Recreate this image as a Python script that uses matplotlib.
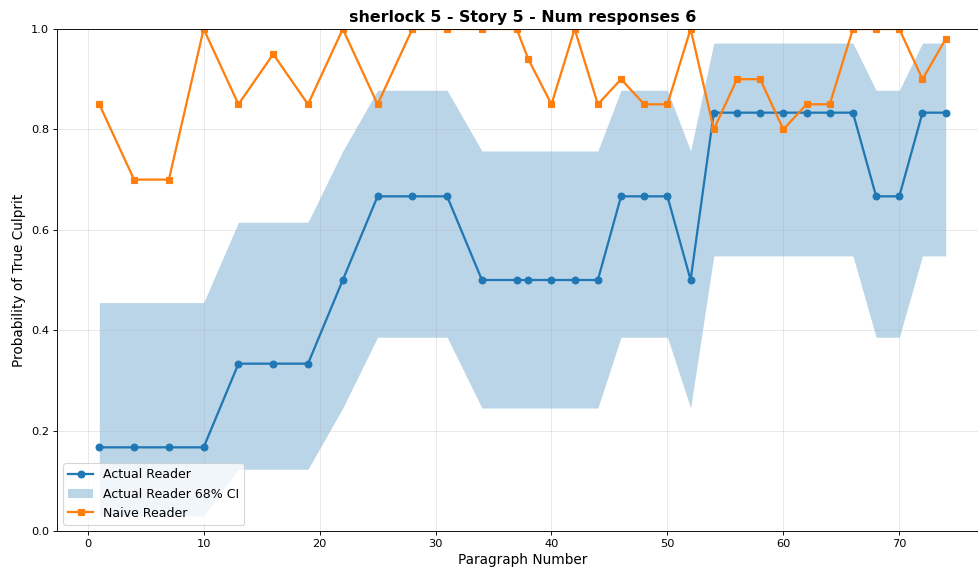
import matplotlib
matplotlib.use("Agg")
import matplotlib.pyplot as plt
import numpy as np

paragraphs = [1, 4, 7, 10, 13, 16, 19, 22, 25, 28, 31, 34, 37, 38, 40, 42, 44,
              46, 48, 50, 52, 54, 56, 58, 60, 62, 64, 66, 68, 70, 72, 74]
actual_counts = [1, 1, 1, 1, 2, 2, 2, 3, 4, 4, 4, 3, 3, 3, 3, 3, 3,
                 4, 4, 4, 3, 5, 5, 5, 5, 5, 5, 5, 4, 4, 5, 5]
num_responses = 6
naive = [0.85, 0.70, 0.70, 1.00, 0.85, 0.95, 0.85, 1.00, 0.85, 1.00, 1.00, 1.00, 1.00, 0.94,
         0.85, 1.00, 0.85, 0.90, 0.85, 0.85, 1.00, 0.80, 0.90, 0.90, 0.80, 0.85, 0.85,
         1.00, 1.00, 1.00, 0.90, 0.98]
# CI bounds per count k (of 6)
ci_lower_by_k = {1: 0.03, 2: 0.123, 3: 0.245, 4: 0.386, 5: 0.548}
ci_upper_by_k = {1: 0.455, 2: 0.615, 3: 0.757, 4: 0.878, 5: 0.972}

actual = [k / num_responses for k in actual_counts]
lower = [ci_lower_by_k[k] for k in actual_counts]
upper = [ci_upper_by_k[k] for k in actual_counts]

DPI = 81.5
fig = plt.figure(figsize=(978 / DPI, 568 / DPI), dpi=DPI)
ax = fig.add_axes([57 / 978, 1 - 531 / 568, (988 - 57) / 978, (531 - 29) / 568])

ax.plot(paragraphs, actual, marker='o', color='#1f77b4', linewidth=2, markersize=6,
        label='Actual Reader')
ax.fill_between(paragraphs, lower, upper, color='#1f77b4', alpha=0.3, linewidth=0,
                label='Actual Reader 68% CI')
ax.plot(paragraphs, naive, marker='s', color='#ff7f0e', linewidth=2, markersize=6,
        label='Naive Reader')

ax.set_ylim(0, 1.0)
ax.set_xlim(-2.65, 77.65)
ax.grid(True, alpha=0.3)
ax.tick_params(labelsize=10)
ax.set_xlabel('Paragraph Number', fontsize=12)
ax.set_ylabel('Probability of True Culprit', fontsize=12)
ax.set_title('sherlock 5 - Story 5 - Num responses 6', fontsize=14, fontweight='bold')
ax.legend(loc='lower left', fontsize=11)

fig.savefig('out.png', dpi=DPI)
